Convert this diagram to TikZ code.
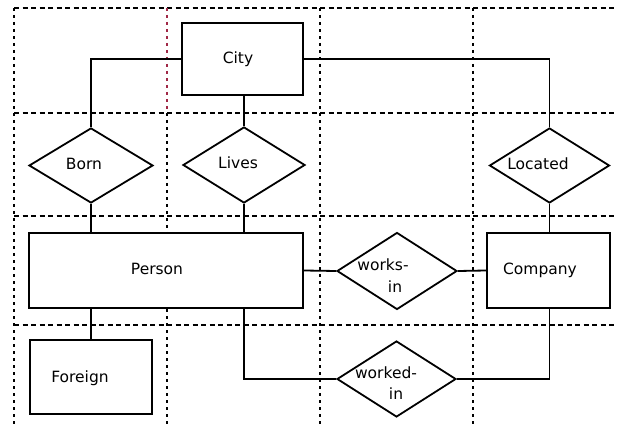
\documentclass[tikz,border=0pt]{standalone}
\usepackage{fontspec}
\setmainfont{DejaVu Sans}
\usetikzlibrary{shapes.geometric}
\definecolor{gridred}{RGB}{160,40,70}
\begin{document}
\begin{tikzpicture}[x=1pt,y=-1pt,
  hgrid/.style={line width=1.4pt,dash pattern=on 5pt off 3.5pt},
  vgrid/.style={line width=1.4pt,dash pattern=on 3pt off 4pt},
  entity/.style={draw,line width=1.8pt,fill=white,rectangle,inner sep=0pt},
  rel/.style={draw,line width=1.8pt,fill=white,diamond,inner sep=0pt},
  lbl/.style={inner sep=0pt,font=\fontsize{15.5}{18}\selectfont},
  conn/.style={line width=1.8pt}]
\useasboundingbox (0,0) rectangle (617,427);
% grid
\coordinate (h1a) at (14,8);   \coordinate (h1b) at (617,8);
\coordinate (h2a) at (14,113); \coordinate (h2b) at (617,113);
\coordinate (h3a) at (14,216); \coordinate (h3b) at (617,216);
\coordinate (h4a) at (14,325); \coordinate (h4b) at (617,325);
\draw[hgrid] (h1a) -- (h1b);
\draw[hgrid] (h2a) -- (h2b);
\draw[hgrid] (h3a) -- (h3b);
\draw[hgrid] (h4a) -- (h4b);
\coordinate (v1a) at (14,8);  \coordinate (v1b) at (14,427);
\coordinate (v2a) at (167,8); \coordinate (v2m) at (167,113); \coordinate (v2b) at (167,427);
\coordinate (v3a) at (320,8); \coordinate (v3b) at (320,427);
\coordinate (v4a) at (473,8); \coordinate (v4b) at (473,427);
\draw[vgrid] (v1a) -- (v1b);
\draw[vgrid,gridred] (v2a) -- (v2m);
\draw[vgrid] (v2m) -- (v2b);
\draw[vgrid] (v3a) -- (v3b);
\draw[vgrid] (v4a) -- (v4b);
% entities
\node[entity,minimum width=121pt,minimum height=72pt] (city) at (242.5,59) {};
\node[entity,minimum width=274pt,minimum height=75pt] (person) at (166,270.5) {};
\node[entity,minimum width=123pt,minimum height=75pt] (company) at (548.5,270.5) {};
\node[entity,minimum width=122pt,minimum height=74pt] (foreign) at (91,377) {};
% relationships
\node[rel,minimum width=124pt,minimum height=75pt] (born) at (91,165.5) {};
\node[rel,minimum width=122pt,minimum height=76pt] (lives) at (244,165) {};
\node[rel,minimum width=120pt,minimum height=75pt] (located) at (549.5,165.5) {};
\node[rel,minimum width=120pt,minimum height=77pt] (worksin) at (397,271) {};
\node[rel,minimum width=119pt,minimum height=76pt] (workedin) at (396.5,379) {};
% labels
\node[lbl] (tcity) at (238,59) {City};
\node[lbl] (tperson) at (157,269) {Person};
\node[lbl] (tcompany) at (540,270) {Company};
\node[lbl] (tforeign) at (80,378) {Foreign};
\node[lbl] (tborn) at (84,164) {Born};
\node[lbl] (tlives) at (238,163) {Lives};
\node[lbl] (tlocated) at (538,164) {Located};
\node[lbl] (tworks) at (383,265) {works-};
\node[lbl] (tin1) at (395,287) {in};
\node[lbl] (tworked) at (386,373) {worked-};
\node[lbl] (tin2) at (396,394) {in};
% connectors
\draw[conn] (city.west) -| (born.north);
\draw[conn] (lives.north |- city.south) -- (lives.north);
\draw[conn] (city.east) -| (located.north);
\draw[conn] (born.south) -- (born.south |- person.north);
\draw[conn] (lives.south) -- (lives.south |- person.north);
\draw[conn] (located.south) -- (located.south |- company.north);
\draw[conn] (person.east) -- (worksin.west);
\draw[conn] (worksin.east) -- (company.west);
\coordinate (pbot) at (lives.south |- person.south);
\draw[conn] (pbot) |- (workedin.west);
\draw[conn] (workedin.east) -| (located.south |- company.south);
\draw[conn] (born.south |- person.south) -- (born.south |- foreign.north);
\end{tikzpicture}
\end{document}
